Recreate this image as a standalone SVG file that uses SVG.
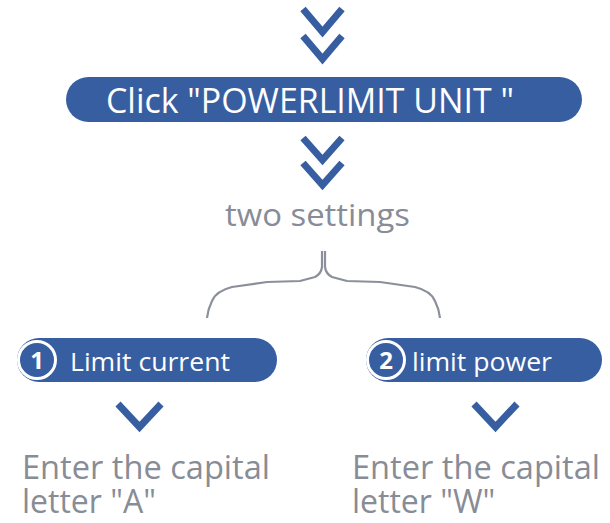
<svg xmlns="http://www.w3.org/2000/svg" width="610" height="523" viewBox="0 0 610 523">
<style>
.pill{fill:#375ea1}
.chev{fill:none;stroke:#375ea1;stroke-width:7;stroke-linecap:butt;stroke-linejoin:miter}
.wt{fill:#ffffff;font-family:"Open Sans","Noto Sans","Liberation Sans",sans-serif}
.gt{fill:#878c96;font-family:"Open Sans","Noto Sans","Liberation Sans",sans-serif}
.num{fill:#ffffff;font-family:"Open Sans","Noto Sans","Liberation Sans",sans-serif;font-weight:bold;font-size:24px;text-anchor:middle}
.ring{fill:#375ea1;stroke:#ffffff;stroke-width:3}
.brace{fill:none;stroke:#8a8f99;stroke-width:2.2;stroke-linejoin:round}
</style>
<rect width="610" height="523" fill="#ffffff"/>
<g id="connectors">
<path class="chev" d="M303 9 L322.5 32 L342 9"/>
<path class="chev" d="M303 36 L322.5 59 L342 36"/>
<path class="chev" d="M303 138 L322.5 160 L342 138"/>
<path class="chev" d="M303 163 L322.5 185 L342 163"/>
<path class="brace" d="M322 251 L322 267 Q321 274 315 277 L300 281 L267 282 L232 287 Q216 291 212 301 Q208 309 207 318"/>
<path class="brace" d="M325 251 L325 267 Q326 274 332 277 L347 281 L380 282 L415 287 Q431 291 435 301 Q439 309 440 318"/>
<path class="chev" d="M118 404 L139.5 427 L161 404"/>
<path class="chev" d="M474 404 L495.5 427 L517 404"/>
</g>
<g id="node-click">
<rect class="pill" x="66" y="77" width="516" height="45" rx="22.5"/>
<text class="wt" x="106" y="113" font-size="34" textLength="408" lengthAdjust="spacingAndGlyphs">Click "POWERLIMIT UNIT "</text>
</g>
<g id="node-two-settings">
<text class="gt" x="225" y="226" font-size="31" textLength="185" lengthAdjust="spacingAndGlyphs">two settings</text>
</g>
<g id="node-limit-current">
<rect class="pill" x="17" y="338" width="260" height="44" rx="22"/>
<circle class="ring" cx="37" cy="360" r="18.5"/>
<text class="num" x="37" y="369">1</text>
<text class="wt" x="70" y="371" font-size="26" textLength="160" lengthAdjust="spacingAndGlyphs">Limit current</text>
</g>
<g id="node-limit-power">
<rect class="pill" x="366" y="338" width="236" height="44" rx="22"/>
<circle class="ring" cx="386" cy="360" r="18.5"/>
<text class="num" x="386" y="369">2</text>
<text class="wt" x="412" y="371" font-size="26" textLength="140" lengthAdjust="spacingAndGlyphs">limit power</text>
</g>
<g id="node-enter-a">
<text class="gt" x="22" y="479" font-size="32" textLength="248" lengthAdjust="spacingAndGlyphs">Enter the capital</text>
<text class="gt" x="22" y="513" font-size="32">letter "A"</text>
</g>
<g id="node-enter-w">
<text class="gt" x="352" y="479" font-size="32" textLength="248" lengthAdjust="spacingAndGlyphs">Enter the capital</text>
<text class="gt" x="352" y="513" font-size="32">letter "W"</text>
</g>
</svg>
